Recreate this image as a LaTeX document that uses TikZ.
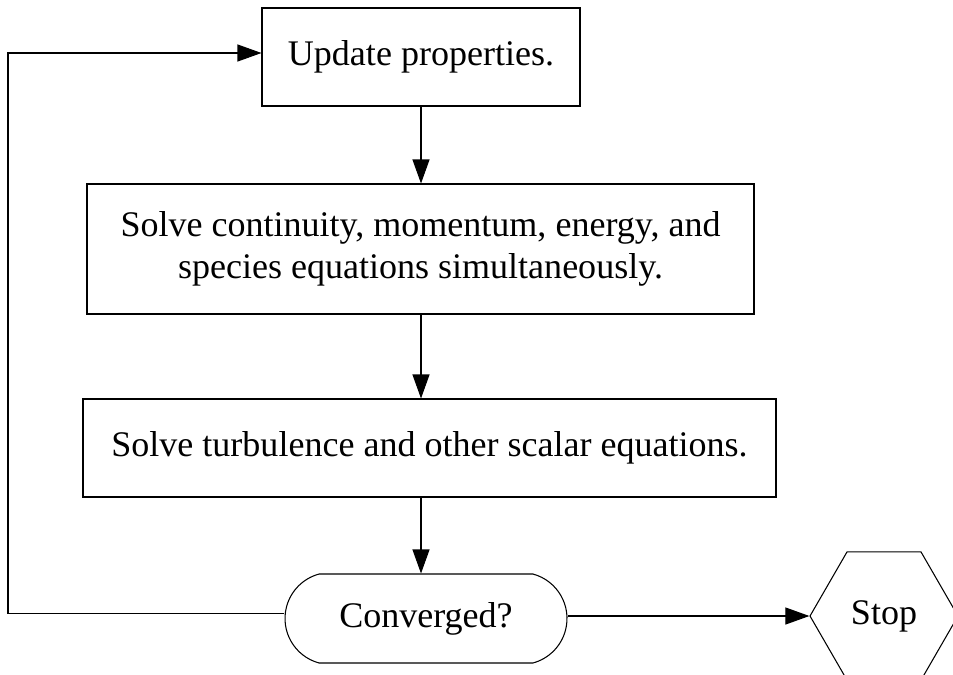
\documentclass[tikz,border=0pt]{standalone}
\usepackage{fontspec}
\setmainfont{Liberation Serif}
\usetikzlibrary{arrows.meta,shapes.geometric,shapes.misc}

\begin{document}
\begin{tikzpicture}[
        % 定義節點樣式:黑框、白底、矩形 (流程圖形式)
        box/.style={
            rectangle,
            draw=black,       % 黑色邊框
            line width=0.6pt,
            inner sep=0pt,
            align=center,
            font=\fontsize{20.5}{24}\selectfont
        },
        terminal/.style={
            rounded rectangle,
            rounded rectangle arc length=150,
            draw=black,
            line width=0.6pt,
            inner sep=0pt,
            minimum width=5.64cm,
            minimum height=1.78cm,
            font=\fontsize{20.5}{24}\selectfont
        },
        hexa/.style={
            regular polygon,
            regular polygon sides=6,
            draw=black,
            line width=0.6pt,
            inner sep=0pt,
            minimum size=2.96cm,
            font=\fontsize{20.5}{24}\selectfont
        },
        % 定義連線樣式
        flow/.style={
            black,
            line width=0.6pt,
            -{Triangle[length=0.48cm,width=0.34cm]}
        }
    ]
        % --- 0. 固定圖面範圍 ---
        \useasboundingbox (0,0) rectangle (19.06,-13.48);
        \clip (0,0) rectangle (19.06,-13.48);

        % --- 1. 定義流程節點 ---
        \node[box, minimum width=6.36cm, minimum height=1.96cm] (upd) at (8.42, -1.14) {Update properties.};
        \node[box, minimum width=13.34cm, minimum height=2.6cm] (coupled) at (8.41, -4.98)
            {Solve continuity, momentum, energy, and\\ species equations simultaneously.};
        \node[box, minimum width=13.86cm, minimum height=1.96cm] (scalar) at (8.59, -8.96)
            {Solve turbulence and other scalar equations.};
        \node[terminal] (conv) at (8.52, -12.37) {Converged?};
        \node[hexa] (stop) at (17.68, -12.32) {Stop};

        % 迴圈左側轉折點
        \coordinate (loop) at (0.16, -12.27);

        % --- 2. 畫向下的流程箭頭 ---
        \draw[flow] (upd.south) -- (upd.south |- coupled.north);
        \draw[flow] (upd.south |- coupled.south) -- (upd.south |- scalar.north);
        \draw[flow] (upd.south |- scalar.south) -- (upd.south |- conv.north);

        % --- 3. 未收斂:回到 Update;收斂:Stop ---
        \draw[flow] (conv.west |- loop) -- (loop) |- ([yshift=0.08cm]upd.west);
        \draw[flow] (conv.east |- stop.west) -- (stop.west);

    \end{tikzpicture}
\end{document}
